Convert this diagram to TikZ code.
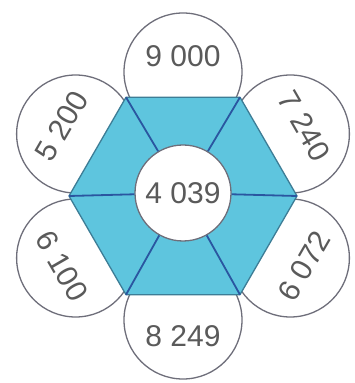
\documentclass[tikz,border=0pt]{standalone}
\usepackage{fontspec}
\setmainfont{Liberation Sans}
\usetikzlibrary{calc}

\definecolor{hexfill}{HTML}{5EC5DE}
\definecolor{hexedge}{HTML}{3D7D96}
\definecolor{spoke}{HTML}{2A56A0}
\definecolor{ringgray}{HTML}{6E6E7A}
\definecolor{numgray}{HTML}{5A5A5A}

\tikzset{
  ring/.style={draw=ringgray, line width=1.3pt, fill=white},
  num/.style={text=numgray, font=\fontsize{30}{30}\selectfont, inner sep=0pt}
}

\begin{document}
\begin{tikzpicture}[x=1pt, y=1pt]
  \useasboundingbox (0, 0) rectangle (355, 383);
  \coordinate (H) at (183, 187);
  % petals round the hexagon
  \foreach \a in {90, 30, -30, -90, -150, 150}
    \draw[ring] ($(H)+(\a:124)$) circle (59);
  % hexagon with flat top and bottom
  \foreach \i in {1,...,6}
    \coordinate (v\i) at ($(H)+({(\i-1)*60}:114)$);
  \filldraw[fill=hexfill, draw=hexedge, line width=1.3pt, line join=round]
    (v1) -- (v2) -- (v3) -- (v4) -- (v5) -- (v6) -- cycle;
  % centre circle and spokes
  \node[ring, circle, inner sep=0pt, minimum size=96pt, text=numgray,
    font=\fontsize{30}{30}\selectfont] (mid) at (183, 190) {4 039};
  \foreach \i in {1,...,6}
    \draw[spoke, line width=1.8pt] (v\i) -- (mid);
  % petal numbers
  \foreach \a/\r/\t [count=\i] in {90/0/9 000, 30/-60/7 240, -30/60/6 072,
      -90/0/8 249, -150/-60/6 100, 150/60/5 200} {
    \node[num, rotate=\r] (n\i) at ($(H)+(\a:140)$) {\t};
  }
\end{tikzpicture}
\end{document}
